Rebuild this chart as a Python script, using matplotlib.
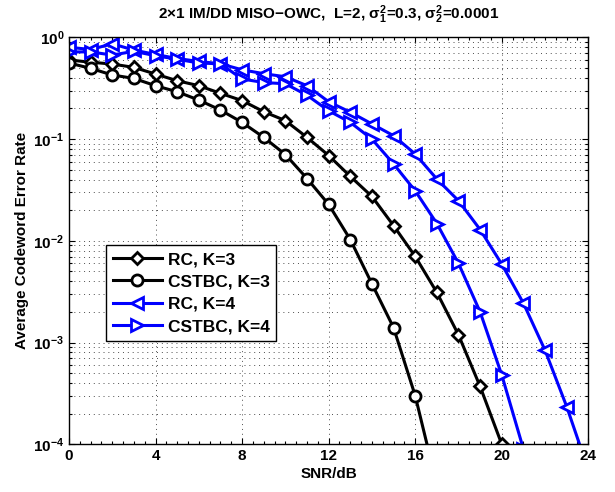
import math
import matplotlib
matplotlib.use("Agg")
import matplotlib.pyplot as plt
from matplotlib.ticker import FixedLocator, MultipleLocator, LogLocator, FuncFormatter, NullFormatter

plt.rcParams["font.family"] = ["Liberation Sans", "DejaVu Sans"]
plt.rcParams["font.weight"] = "bold"
plt.rcParams["mathtext.fontset"] = "custom"
plt.rcParams["mathtext.rm"] = "Liberation Sans:bold"
plt.rcParams["mathtext.it"] = "Liberation Sans:bold"
plt.rcParams["mathtext.bf"] = "Liberation Sans:bold"

# SNR grid (dB) and error rates
snr_rc3 = list(range(0, 21))
rc3 = [0.60, 0.57, 0.547, 0.507, 0.436, 0.375, 0.335, 0.282, 0.239, 0.186, 0.152,
       0.104, 0.069, 0.043, 0.0273, 0.0141, 0.00703, 0.00311, 0.00119, 0.00037, 0.0001]

snr_cs3 = list(range(0, 18))
cs3 = [0.56, 0.496, 0.427, 0.395, 0.335, 0.292, 0.242, 0.193, 0.146, 0.104, 0.0705,
       0.041, 0.0228, 0.0103, 0.00378, 0.0014, 0.0003, 0.00004]

snr_rc4 = list(range(0, 25))
rc4 = [0.80, 0.76, 0.865, 0.75, 0.68, 0.62, 0.58, 0.55, 0.48, 0.44, 0.41, 0.335,
       0.233, 0.184, 0.141, 0.108, 0.0713, 0.0405, 0.0248, 0.0129, 0.0059, 0.00244,
       0.00084, 0.000235, 0.000056]

snr_cs4 = list(range(0, 22))
cs4 = [0.72, 0.72, 0.67, 0.73, 0.66, 0.61, 0.56, 0.55, 0.39, 0.36, 0.35, 0.27,
       0.19, 0.146, 0.10, 0.057, 0.031, 0.0148, 0.006, 0.002, 0.00048, 0.00009]

labels = ["RC, K=3", "CSTBC, K=3", "RC, K=4", "CSTBC, K=4"]

fig = plt.figure(figsize=(6.15, 4.92), dpi=100)
ax = fig.add_axes([0.1122, 0.097, 0.8444, 0.827])

kw = dict(linewidth=2.2, markersize=8, markeredgewidth=2, markerfacecolor="white")
ax.semilogy(snr_rc3, rc3, "-D", color="black", label=labels[0], **dict(kw, markersize=6.5))
ax.semilogy(snr_cs3, cs3, "-o", color="black", label=labels[1], **kw)
ax.semilogy(snr_rc4, rc4, "-<", color="#0000ff", label=labels[2], **dict(kw, markersize=9))
ax.semilogy(snr_cs4, cs4, "->", color="#0000ff", label=labels[3], **dict(kw, markersize=9))

ax.set_xlim(0, 24)
ax.set_ylim(1e-4, 1)
ax.xaxis.set_major_locator(MultipleLocator(4))
ax.xaxis.set_minor_locator(MultipleLocator(0.5))
ax.yaxis.set_major_locator(FixedLocator([1e-4, 1e-3, 1e-2, 1e-1, 1]))
ax.yaxis.set_minor_locator(LogLocator(base=10, subs=range(2, 10), numticks=20))
ax.yaxis.set_minor_formatter(NullFormatter())
ax.yaxis.set_major_formatter(FuncFormatter(lambda v, p: r"$10^{%d}$" % round(math.log10(v))))

ax.tick_params(which="both", direction="in", top=True, right=True, labelsize=11, width=0.8)
ax.tick_params(which="major", length=4)
ax.tick_params(which="minor", length=2)
for lab in ax.get_xticklabels():
    lab.set_fontweight("bold")

grid_kw = dict(linestyle=(0, (1, 4)), color="0.3", linewidth=0.7)
ax.grid(True, which="major", axis="both", **grid_kw)
ax.grid(True, which="minor", axis="y", **grid_kw)
for s in ax.spines.values():
    s.set_linewidth(1.0)

ax.set_xlabel("SNR/dB", fontsize=11, fontweight="bold", labelpad=3)
ax.set_ylabel("Average Codeword Error Rate", fontsize=11, fontweight="bold", labelpad=3)
ax.set_title(r"2$\times$1 IM/DD MISO$-$OWC,  L=2, $\sigma_1^2$=0.3, $\sigma_2^2$=0.0001",
             fontsize=11, fontweight="bold", pad=13)

leg = ax.legend(loc="upper left", bbox_to_anchor=(106 / 615, 1 - 245 / 492),
                bbox_transform=fig.transFigure, fancybox=False, framealpha=1,
                edgecolor="black", fontsize=12.5, handlelength=2.8, borderpad=0.4,
                labelspacing=0.42, handletextpad=0.35, borderaxespad=0)
leg.get_frame().set_linewidth(1.0)
for t in leg.get_texts():
    t.set_fontweight("bold")

fig.savefig("out.png", dpi=100)
